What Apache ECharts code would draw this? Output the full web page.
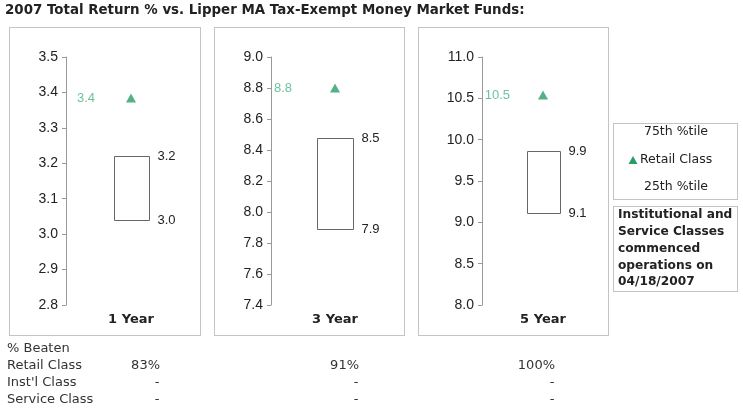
<!DOCTYPE html>
<html>
<head>
<meta charset="utf-8">
<script src="https://cdn.jsdelivr.net/npm/echarts@6/dist/echarts.min.js"></script>
<style>
  html, body { margin: 0; padding: 0; background: #fff; }
  #chart { width: 743px; height: 410px; }
</style>
</head>
<body>
<div id="chart"></div>
<script>
// values
var periods = ['1 Year', '3 Year', '5 Year'];
var pct25 = [3.04, 7.89, 9.11];
var pct75 = [3.22, 8.476, 9.86];
var retail = [3.384, 8.8, 10.54];
var axisMin = [2.8, 7.4, 8.0];
var axisMax = [3.5, 9.0, 11.0];
var axisStep = [0.1, 0.2, 0.5];

var beatenRows = ['Retail Class', "Inst'l Class", 'Service Class'];
var beatenRetail = ['83%', '91%', '100%'];
var beatenInst = ['-', '-', '-'];
var beatenService = ['-', '-', '-'];

var noteLines = ['Institutional and', 'Service Classes', 'commenced', 'operations on', '04/18/2007'];

var green = '#2b9c68';
var greenText = '#45b583';
var font = 'DejaVu Sans';

// layout of the three panels
var gridLeft = [66, 271, 482];
var gridWidth = [130, 128, 122];
var panelX = [9, 214, 418];
var panelW = [191, 190, 190];
var boxW = [35, 36, 33];
var labelDist = [31, 38, 28];
var valueCols = [160, 359, 555];

var chart = echarts.init(document.getElementById('chart'));

var grids = [], xAxes = [], yAxes = [], series = [];
for (var i = 0; i < 3; i++) {
  grids.push({ left: gridLeft[i], width: gridWidth[i], top: 57, bottom: 105 });
  xAxes.push({
    type: 'category', gridIndex: i, data: [periods[i]],
    axisLine: { show: false }, axisTick: { show: false },
    axisLabel: { margin: 8, color: '#222', fontFamily: font, fontWeight: 'bold', fontSize: 13 }
  });
  yAxes.push({
    type: 'value', gridIndex: i, min: axisMin[i], max: axisMax[i], interval: axisStep[i],
    splitLine: { show: false },
    axisLine: { show: true, lineStyle: { color: '#999' } },
    axisTick: { show: true, length: 4, lineStyle: { color: '#999' } },
    axisLabel: {
      margin: 8, color: '#222', fontFamily: 'Liberation Sans', fontSize: 14,
      formatter: function (v) { return v.toFixed(1); }
    }
  });
  series.push({
    type: 'custom', xAxisIndex: i, yAxisIndex: i,
    data: [[0, pct25[i], pct75[i]]],
    renderItem: (function (w) {
      return function (params, api) {
        var lo = api.coord([api.value(0), api.value(1)]);
        var hi = api.coord([api.value(0), api.value(2)]);
        var x = Math.round(lo[0] - w / 2) + 0.5;
        return {
          type: 'group',
          children: [
            { type: 'rect', shape: { x: x, y: Math.round(hi[1]) + 0.5, width: w, height: Math.round(lo[1] - hi[1]) },
              style: { fill: '#fff', stroke: '#666', lineWidth: 1 } },
            { type: 'text', style: { x: x + w + 8, y: hi[1], text: api.value(2).toFixed(1), fill: '#222',
              font: '13px "Liberation Sans"', verticalAlign: 'middle' } },
            { type: 'text', style: { x: x + w + 8, y: lo[1], text: api.value(1).toFixed(1), fill: '#222',
              font: '13px "Liberation Sans"', verticalAlign: 'middle' } }
          ]
        };
      };
    })(boxW[i])
  });
  series.push({
    type: 'scatter', xAxisIndex: i, yAxisIndex: i,
    symbol: 'triangle', symbolSize: [10, 9],
    itemStyle: { color: green },
    data: [[0, retail[i]]],
    label: {
      show: true, position: 'left', distance: labelDist[i], color: greenText,
      fontFamily: 'Liberation Sans', fontSize: 13,
      formatter: function (p) { return p.value[1].toFixed(1); }
    }
  });
}

var graphics = [];
graphics.push({
  type: 'text', left: 5, top: 4,
  style: { text: '2007 Total Return % vs. Lipper MA Tax-Exempt Money Market Funds:', fill: '#222',
    font: 'bold 13.4px "DejaVu Sans"' }
});
for (var j = 0; j < 3; j++) {
  graphics.push({
    type: 'rect', z: -1,
    shape: { x: panelX[j] + 0.5, y: 27.5, width: panelW[j], height: 308 },
    style: { fill: null, stroke: '#888', lineWidth: 1, lineDash: [1, 1] }
  });
}
// legend box
graphics.push({
  type: 'rect', shape: { x: 613.5, y: 123.5, width: 124, height: 76 },
  style: { fill: null, stroke: '#888', lineWidth: 1, lineDash: [1, 1] }
});
graphics.push({ type: 'text', x: 676, y: 132, style: { text: '75th %tile', fill: '#222', font: '12.5px "DejaVu Sans"', align: 'center', verticalAlign: 'middle' } });
graphics.push({ type: 'polygon', shape: { points: [[633, 156], [637.5, 164], [628.5, 164]] }, style: { fill: green } });
graphics.push({ type: 'text', x: 640, y: 160, style: { text: 'Retail Class', fill: '#222', font: '12.5px "DejaVu Sans"', verticalAlign: 'middle' } });
graphics.push({ type: 'text', x: 676, y: 187, style: { text: '25th %tile', fill: '#222', font: '12.5px "DejaVu Sans"', align: 'center', verticalAlign: 'middle' } });
// note box
graphics.push({
  type: 'rect', shape: { x: 613.5, y: 206.5, width: 124, height: 85 },
  style: { fill: null, stroke: '#888', lineWidth: 1, lineDash: [1, 1] }
});
noteLines.forEach(function (t, k) {
  graphics.push({ type: 'text', x: 618, y: 215 + k * 16.8, style: { text: t, fill: '#222', font: 'bold 12.2px "DejaVu Sans"', verticalAlign: 'middle' } });
});
// % beaten table
graphics.push({ type: 'text', x: 7, y: 349, style: { text: '% Beaten', fill: '#333', font: '13px "DejaVu Sans"', verticalAlign: 'middle' } });
var rowVals = [beatenRetail, beatenInst, beatenService];
beatenRows.forEach(function (name, r) {
  var y = 366 + r * 17;
  graphics.push({ type: 'text', x: 7, y: y, style: { text: name, fill: '#333', font: '13px "DejaVu Sans"', verticalAlign: 'middle' } });
  rowVals[r].forEach(function (v, c) {
    graphics.push({ type: 'text', x: v === '-' ? valueCols[c] - 3 : valueCols[c], y: y, style: { text: v, fill: '#333', font: '13px "DejaVu Sans"', align: v === '-' ? 'center' : 'right', verticalAlign: 'middle' } });
  });
});

chart.setOption({
  animation: false,
  grid: grids,
  xAxis: xAxes,
  yAxis: yAxes,
  series: series,
  graphic: graphics
});
</script>
</body>
</html>
